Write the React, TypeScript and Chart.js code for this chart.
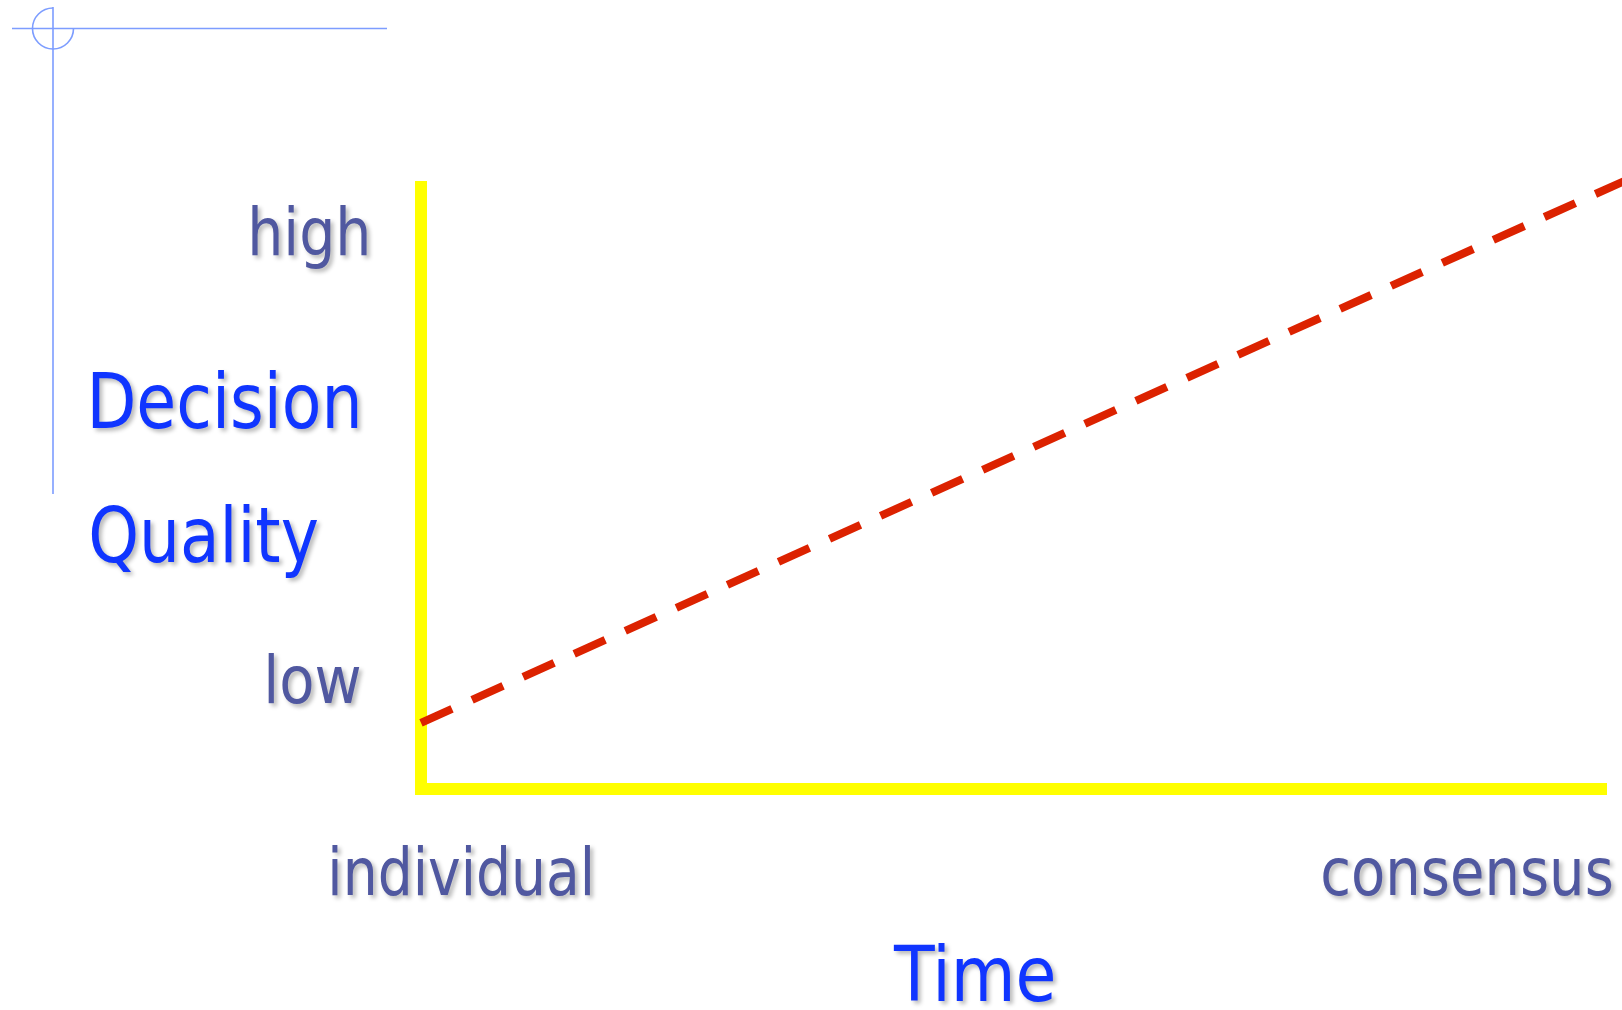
import React, { useEffect, useRef } from 'react';
import { Chart, registerables } from 'chart.js';

Chart.register(...registerables);

// ---- data ----
const timeValues = [0, 102];
const qualityValues = [11, 101.4];
const qualityLabels = ['high', 'low'];
const timeLabels = ['individual', 'consensus'];
const qualityTitle = ['Decision', 'Quality'];
const timeTitle = 'Time';

const SLATE = '#5058A0';
const BLUE = '#1035FF';
const YELLOW = '#FFFF00';
const RED = '#DC2200';
const DECOR = '#7D9DFF';
const FONT = '"DejaVu Sans Condensed", "DejaVu Sans", sans-serif';

function drawFitted(
  ctx: CanvasRenderingContext2D,
  text: string,
  left: number,
  baseline: number,
  width: number,
  size: number,
  color: string
) {
  ctx.save();
  ctx.font = `${size}px ${FONT}`;
  ctx.textAlign = 'left';
  ctx.textBaseline = 'alphabetic';
  const m = ctx.measureText(text);
  const ink = m.actualBoundingBoxLeft + m.actualBoundingBoxRight;
  const sx = ink > 0 ? width / ink : 1;
  ctx.shadowColor = 'rgba(0,0,0,0.28)';
  ctx.shadowOffsetX = 3;
  ctx.shadowOffsetY = 3;
  ctx.shadowBlur = 4;
  ctx.fillStyle = color;
  ctx.translate(left, baseline);
  ctx.scale(sx, 1);
  ctx.fillText(text, m.actualBoundingBoxLeft, 0);
  ctx.restore();
}

const decorPlugin = {
  id: 'decor',
  beforeDraw(chart: any) {
    const ctx: CanvasRenderingContext2D = chart.ctx;
    ctx.save();
    ctx.strokeStyle = DECOR;
    ctx.lineWidth = 1.6;
    ctx.beginPath();
    ctx.moveTo(12, 28.5);
    ctx.lineTo(387, 28.5);
    ctx.moveTo(53, 7);
    ctx.lineTo(53, 494);
    ctx.stroke();
    ctx.beginPath();
    ctx.arc(53, 28.5, 20.5, -Math.PI / 2, 0, true);
    ctx.stroke();
    ctx.restore();
  },
  afterDraw(chart: any) {
    const ctx: CanvasRenderingContext2D = chart.ctx;
    // quality levels
    drawFitted(ctx, qualityLabels[0], 252, 255, 115, 66, SLATE);
    drawFitted(ctx, qualityLabels[1], 268, 703, 92, 66, SLATE);
    // quality title
    drawFitted(ctx, qualityTitle[0], 92, 428, 266, 77, BLUE);
    drawFitted(ctx, qualityTitle[1], 91, 562, 226, 77, BLUE);
    // time levels
    drawFitted(ctx, timeLabels[0], 332, 895, 258, 66, SLATE);
    drawFitted(ctx, timeLabels[1], 1323, 895, 289, 66, SLATE);
    // time title
    drawFitted(ctx, timeTitle, 893, 1001, 160, 77, BLUE);
  },
};

export default function App() {
  const ref = useRef<HTMLCanvasElement | null>(null);

  useEffect(() => {
    if (!ref.current) return;
    const chart = new Chart(ref.current, {
      type: 'line',
      data: {
        datasets: [
          {
            data: timeValues.map((x, i) => ({ x, y: qualityValues[i] })),
            borderColor: RED,
            borderWidth: 8,
            borderDash: [34, 22],
            borderCapStyle: 'butt',
            pointRadius: 0,
            fill: false,
            tension: 0,
            clip: false as any,
          },
        ],
      },
      options: {
        animation: false,
        responsive: false,
        devicePixelRatio: 1,
        layout: { padding: { left: 421, top: 187, right: 16, bottom: 221 } },
        plugins: { legend: { display: false }, tooltip: { enabled: false } },
        scales: {
          x: {
            type: 'linear',
            min: 0,
            max: 100,
            ticks: { display: false },
            grid: { display: false, drawTicks: false },
            border: { display: true, color: YELLOW, width: 12 },
          },
          y: {
            type: 'linear',
            min: 0,
            max: 100,
            ticks: { display: false },
            grid: { display: false, drawTicks: false },
            border: { display: true, color: YELLOW, width: 12 },
          },
        },
      },
      plugins: [decorPlugin],
    } as any);
    return () => chart.destroy();
  }, []);

  return (
    <div style={{ position: 'fixed', left: 0, top: 0, width: 1622, height: 1010, background: '#fff' }}>
      <canvas ref={ref} width={1622} height={1010} style={{ display: 'block' }} />
    </div>
  );
}
